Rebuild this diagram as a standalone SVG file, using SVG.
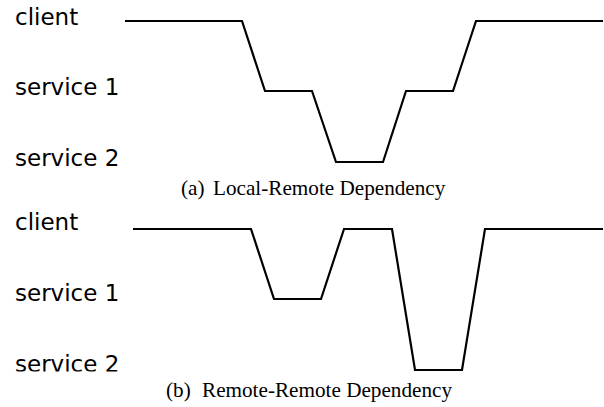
<svg xmlns="http://www.w3.org/2000/svg" width="604" height="407" viewBox="0 0 604 407">
<style>
.lbl{font-family:"DejaVu Sans",sans-serif;font-size:23px;fill:#000}
.cap{font-family:"Liberation Serif","Times New Roman",serif;font-size:21.2px;fill:#000}
.trace{fill:none;stroke:#000;stroke-width:2.2;stroke-linejoin:miter}
</style>
<defs><clipPath id="clipb"><rect x="0" y="0" width="604" height="371.5"/></clipPath></defs>
<rect width="604" height="407" fill="#fff"/>
<g id="diagram-a">
<g id="a-client"><text class="lbl" x="15" y="25">client</text></g>
<g id="a-service1"><text class="lbl" x="15" y="95">service 1</text></g>
<g id="a-service2"><text class="lbl" x="15" y="166">service 2</text></g>
<g id="a-connectors"><polyline class="trace" points="125,21 242,21 265,91 312,91 336,162 383,162 406,91 453,91 476,21 603,21"/></g>
<g id="a-caption"><text class="cap" x="181" y="195">(a)<tspan x="213">Local-Remote Dependency</tspan></text></g>
</g>
<g id="diagram-b">
<g id="b-client"><text class="lbl" x="15" y="230">client</text></g>
<g id="b-service1"><text class="lbl" x="15" y="301">service 1</text></g>
<g id="b-service2" clip-path="url(#clipb)"><text class="lbl" x="15" y="372">service 2</text></g>
<g id="b-connectors"><polyline class="trace" points="133,229 251,229 274,299 321,299 344,229 392,229 415,370 462,370 485,229 603,229"/></g>
<g id="b-caption"><text class="cap" x="166" y="397">(b)<tspan x="202">Remote-Remote Dependency</tspan></text></g>
</g>
</svg>
